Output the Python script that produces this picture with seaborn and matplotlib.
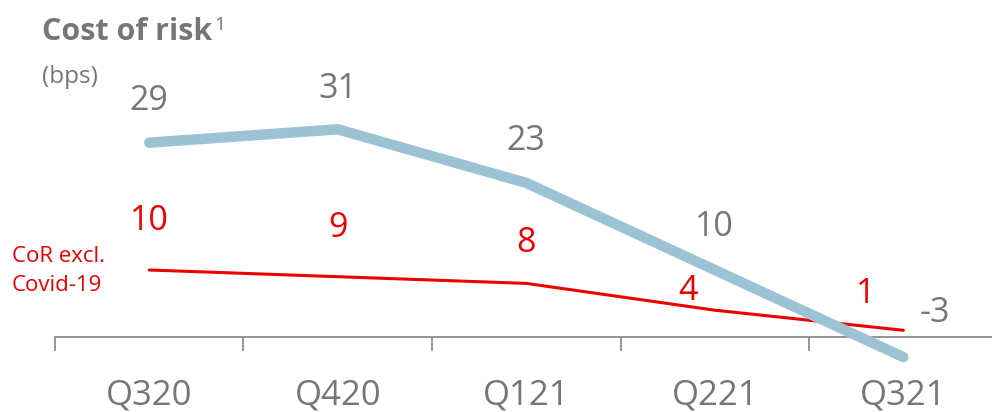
import numpy as np
import pandas as pd
import seaborn as sns
import matplotlib.pyplot as plt

# data
quarters = ["Q320", "Q420", "Q121", "Q221", "Q321"]
cost_of_risk = [29, 31, 23, 10, -3]
cor_excl_covid = [10, 9, 8, 4, 1]

df = pd.DataFrame({
    "pos": np.arange(len(quarters)),
    "quarter": quarters,
    "cor": cost_of_risk,
    "cor_excl": cor_excl_covid,
})

sns.set_style("white")
plt.rcParams["font.family"] = ["Open Sans", "DejaVu Sans"]

GRAY = "#767676"
BLUE = "#9bc3d4"
RED = "#ec0000"

fig = plt.figure(figsize=(9.92, 4.12), dpi=100)
ax = fig.add_axes([0.0554, 0.117, 0.9446, 0.683])

sns.lineplot(data=df, x="pos", y="cor_excl", ax=ax, color=RED, lw=2.2, zorder=2,
             clip_on=False)
sns.lineplot(data=df, x="pos", y="cor", ax=ax, color=BLUE, lw=7.5, zorder=3,
             solid_capstyle="round", clip_on=False)

ax.set_xlim(-0.5, 4.47)
ax.set_ylim(-4, 38)

# value labels (offsets in points)
blue_off = [(0, 30), (0, 29), (0, 30), (0, 31), (23, 32)]
red_off = [(0, 35), (0, 35), (0, 29), (-19, 14), (-27, 26)]
for i, (v, o) in enumerate(zip(cost_of_risk, blue_off)):
    ax.annotate(str(v), (df["pos"][i], v), xytext=o, textcoords="offset points",
                ha="center", va="center", fontsize=24.5, color=GRAY)
for i, (v, o) in enumerate(zip(cor_excl_covid, red_off)):
    ax.annotate(str(v), (df["pos"][i], v), xytext=o, textcoords="offset points",
                ha="center", va="center", fontsize=24.5, color=RED)

# axis styling
for s in ["top", "left", "right"]:
    ax.spines[s].set_visible(False)
ax.spines["bottom"].set_position(("data", 0))
ax.spines["bottom"].set_color("#8c8c8c")
ax.spines["bottom"].set_linewidth(1.3)
ax.set_yticks([])
ax.set_xticks(np.arange(len(quarters)) - 0.5)
ax.set_xticklabels([])
ax.tick_params(axis="x", which="major", bottom=True, direction="out", length=10,
               width=1.3, color="#8c8c8c")
ax.set_xticks(np.arange(len(quarters)), minor=True)
ax.set_xticklabels(quarters, minor=True)
ax.tick_params(axis="x", which="minor", bottom=True, length=0, pad=30,
               labelsize=25, labelcolor=GRAY)
ax.set_xlabel("")
ax.set_ylabel("")

# titles and series note
title = fig.text(42 / 992, 1 - 40 / 412, "Cost of risk", fontsize=22,
                 fontweight="bold", color=GRAY, ha="left", va="baseline")
fig.add_artist(plt.Annotation("1", xy=(1.0, 1.0), xycoords=title,
                              xytext=(1.5, 1), textcoords="offset points",
                              fontsize=14, color=GRAY, ha="left", va="top"))
fig.text(42 / 992, 1 - 83 / 412, "(bps)", fontsize=17.5, color=GRAY, ha="left",
         va="baseline")
fig.text(12 / 992, 1 - 262 / 412, "CoR excl.", fontsize=16, color=RED,
         ha="left", va="baseline")
fig.text(12 / 992, 1 - 291 / 412, "Covid-19", fontsize=16, color=RED,
         ha="left", va="baseline")

plt.savefig("out.png", dpi=100)
plt.close()
